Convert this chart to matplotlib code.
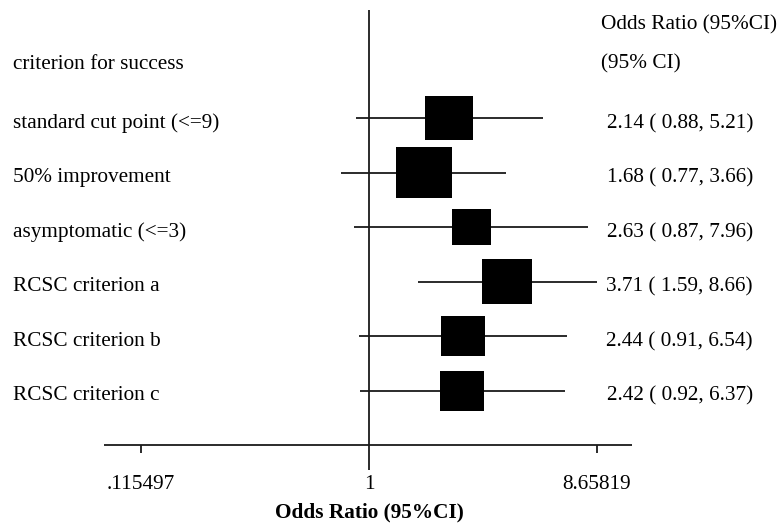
import numpy as np
import matplotlib

matplotlib.use("Agg")
import matplotlib.pyplot as plt  # noqa: E402
from matplotlib.path import Path  # noqa: E402

labels = ["standard cut point (<=9)", "50% improvement", "asymptomatic (<=3)",
          "RCSC criterion a", "RCSC criterion b", "RCSC criterion c"]
odds = [2.14, 1.68, 2.63, 3.71, 2.44, 2.42]
lower = [0.88, 0.77, 0.87, 1.59, 0.91, 0.92]
upper = [5.21, 3.66, 7.96, 8.66, 6.54, 6.37]
box_px = [48, 56, 39, 50, 44, 44]  # box widths (study weight)
xticks = [0.115497, 1, 8.65819]
xtick_labels = [".115497", "1", "8.65819"]

DPI = 100
fig = plt.figure(figsize=(7.77, 5.24), dpi=DPI)
ax = fig.add_axes([0, 0, 1, 1])
ax.set_xscale("log")
# pixel -> log scale: x=369px is OR 1, 105.6 px per ln unit
ax.set_xlim(np.exp(-369 / 105.6), np.exp((777 - 369) / 105.6))
# rows 54.5 px apart, first row centred at y=118px
ax.set_ylim((524 - 118) / 54.5, -118 / 54.5)
ax.axis("off")

serif = ["Liberation Serif", "DejaVu Serif"]
fs = 15.3
col = "#1a1a1a"
rows = np.arange(len(labels))

ax.hlines(rows, lower, upper, color=col, lw=1.3, zorder=2)
rect = Path([(-1.1, -1), (1.1, -1), (1.1, 1), (-1.1, 1), (-1.1, -1)], closed=True)
ax.scatter(odds, rows, marker=rect, s=[(w * 72 / DPI) ** 2 for w in box_px],
           color="black", linewidths=0, zorder=3)

axis_row = 6.0
ax.vlines(1, -1.98, 6.45, color=col, lw=1.3)
ax.hlines(axis_row, np.exp((104 - 369) / 105.6), np.exp((632 - 369) / 105.6), color=col, lw=1.3)
for t, tl in zip(xticks, xtick_labels):
    if t != 1:
        ax.vlines(t, axis_row, axis_row + 0.14, color=col, lw=1.3)
    ax.text(t, 6.72, tl, ha="center", va="center", fontsize=fs, family=serif)
ax.text(1, 7.24, "Odds Ratio (95%CI)", ha="center", va="center", fontsize=fs,
        fontweight="bold", family=serif)

tr = ax.get_yaxis_transform()
ax.text(13 / 777, -0.99, "criterion for success", transform=tr, ha="left", va="center",
        fontsize=fs, family=serif)
ax.text(601 / 777, -1.7, "Odds Ratio (95%CI)", transform=tr, ha="left", va="center",
        fontsize=fs, family=serif)
ax.text(601 / 777, -0.99, "(95% CI)", transform=tr, ha="left", va="center",
        fontsize=fs, family=serif)
for i, lab in enumerate(labels):
    ax.text(13 / 777, i + 0.1, lab, transform=tr, ha="left", va="center", fontsize=fs,
            family=serif)
    ax.text(753 / 777, i + 0.1, f"{odds[i]:.2f} ( {lower[i]:.2f}, {upper[i]:.2f})",
            transform=tr, ha="right", va="center", fontsize=fs, family=serif)

fig.savefig("out.png", dpi=DPI)
